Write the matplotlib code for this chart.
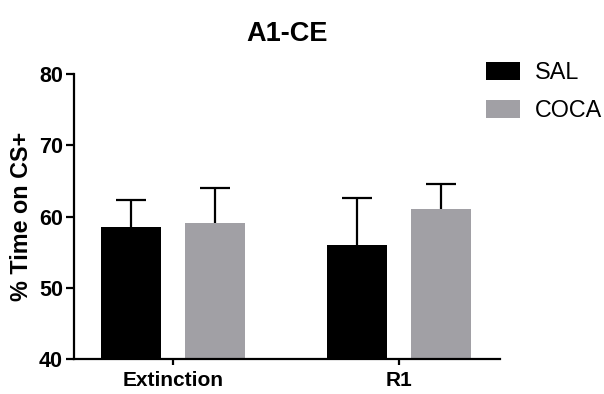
import matplotlib
matplotlib.use("Agg")
import matplotlib.pyplot as plt
import numpy as np

plt.rcParams['font.family'] = ['Liberation Sans', 'DejaVu Sans']

groups = ["Extinction", "R1"]
series = ["SAL", "COCA"]
means = {"SAL": [58.5, 56.0], "COCA": [59.1, 61.0]}
errs = {"SAL": [3.8, 6.6], "COCA": [4.9, 3.6]}
colors = {"SAL": "#000000", "COCA": "#a1a0a5"}

fig = plt.figure(figsize=(6.04, 3.94), dpi=100)
ax = fig.add_axes([0.1225, 0.089, 0.7055, 0.723])

x = np.arange(len(groups))
width = 0.265
offsets = [-0.187, 0.187]
for s, off in zip(series, offsets):
    m = np.array(means[s])
    e = np.array(errs[s])
    ax.bar(x + off, m - 40, width, bottom=40, color=colors[s], label=s, zorder=2)
    eb = ax.errorbar(x + off, m, yerr=[np.zeros_like(e), e], fmt='none',
                     ecolor='black', elinewidth=1.6, capsize=10.5, capthick=1.6, zorder=1)
    # only the upper cap, like the original
    eb[1][0].set_visible(False)

ax.set_ylim(40, 80)
ax.set_xlim(-0.438, 1.447)
ax.set_yticks([40, 50, 60, 70, 80])
ax.set_xticks(x)
ax.set_xticklabels(groups, fontweight='bold', fontsize=15)
for lab in ax.get_yticklabels():
    lab.set_fontweight('bold')
    lab.set_fontsize(15.5)
ax.set_ylabel("% Time on CS+", fontweight='bold', fontsize=16.8, labelpad=4)
ax.set_title("A1-CE", fontweight='bold', fontsize=19.5, pad=24)

for sp in ['top', 'right']:
    ax.spines[sp].set_visible(False)
for sp in ['left', 'bottom']:
    ax.spines[sp].set_linewidth(1.6)
ax.tick_params(axis='y', width=1.6, length=6, pad=2)
ax.tick_params(axis='x', width=1.6, length=4, pad=5)

ax.legend(loc='upper left', bbox_to_anchor=(0.804, 0.845), bbox_transform=fig.transFigure,
          frameon=False, fontsize=16.8, handlelength=1.46, handleheight=0.82,
          handletextpad=0.64, labelspacing=0.66, borderpad=0, borderaxespad=0)

fig.savefig("out.png", dpi=100)
